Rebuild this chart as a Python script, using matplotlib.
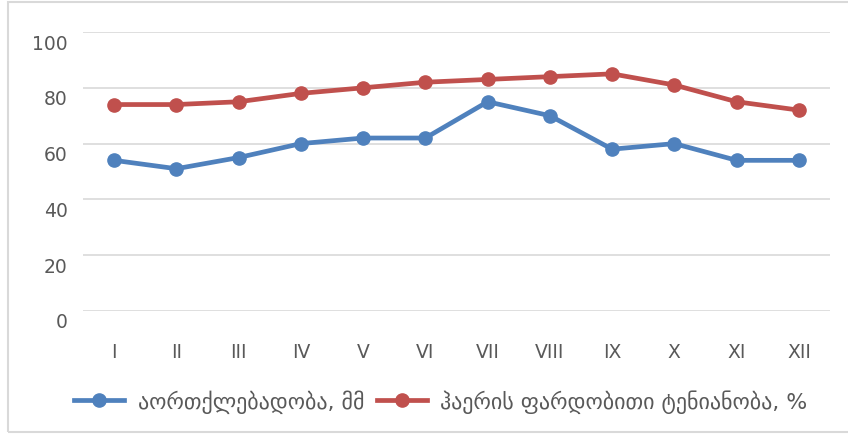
import numpy as np
import matplotlib.pyplot as plt
import matplotlib.transforms as mtransforms
from matplotlib.patches import Rectangle

# თვეები და მნიშვნელობები
months = ["I", "II", "III", "IV", "V", "VI", "VII", "VIII", "IX", "X", "XI", "XII"]
evaporation = [54, 51, 55, 60, 62, 62, 75, 70, 58, 60, 54, 54]
humidity = [74, 74, 75, 78, 80, 82, 83, 84, 85, 81, 75, 72]
label_evap = "აორთქლებადობა, მმ"
label_hum = "ჰაერის ფარდობითი ტენიანობა, %"

plt.rcParams['font.family'] = ['DejaVu Sans']

fig = plt.figure(figsize=(8.48, 4.35), dpi=100)
ax = fig.add_axes([83/848, 1-312/435, (830-83)/848, (312-33)/435])

x = np.arange(len(months))
ax.plot(x, evaporation, color="#4F81BD", lw=3.4, marker="o", ms=9.5, label=label_evap)
ax.plot(x, humidity, color="#C0504D", lw=3.4, marker="o", ms=9.5, label=label_hum)

ax.set_xlim(-0.5, len(months)-0.5)
ax.set_ylim(0, 100)
ax.set_yticks(range(0, 101, 20))
ax.set_xticks(x)
ax.set_xticklabels(months)
ax.grid(axis="y", color="#D9D9D9", lw=1.2)
ax.set_axisbelow(True)
for s in ax.spines.values():
    s.set_visible(False)
ax.tick_params(length=0, labelsize=13.5, labelcolor="#595959")
ax.tick_params(axis="y", pad=11)
ax.tick_params(axis="x", pad=22)

# y ნიშნულები ოდნავ ქვემოთაა
off = mtransforms.ScaledTranslation(0, -9/100, fig.dpi_scale_trans)
for lab in ax.get_yticklabels():
    lab.set_transform(lab.get_transform() + off)

leg = ax.legend(loc="center", bbox_to_anchor=(441/848, 1-402/435),
                bbox_transform=fig.transFigure, ncol=2, frameon=False,
                fontsize=15.8, handlelength=2.28, handletextpad=0.63,
                columnspacing=0.54, labelcolor="#595959")

fig.patches.append(Rectangle((7.5/848, 2.5/435), 850/848, 430/435, transform=fig.transFigure,
                             fill=False, edgecolor="#D9D9D9", lw=1.5))

fig.savefig("out.png", dpi=100)
